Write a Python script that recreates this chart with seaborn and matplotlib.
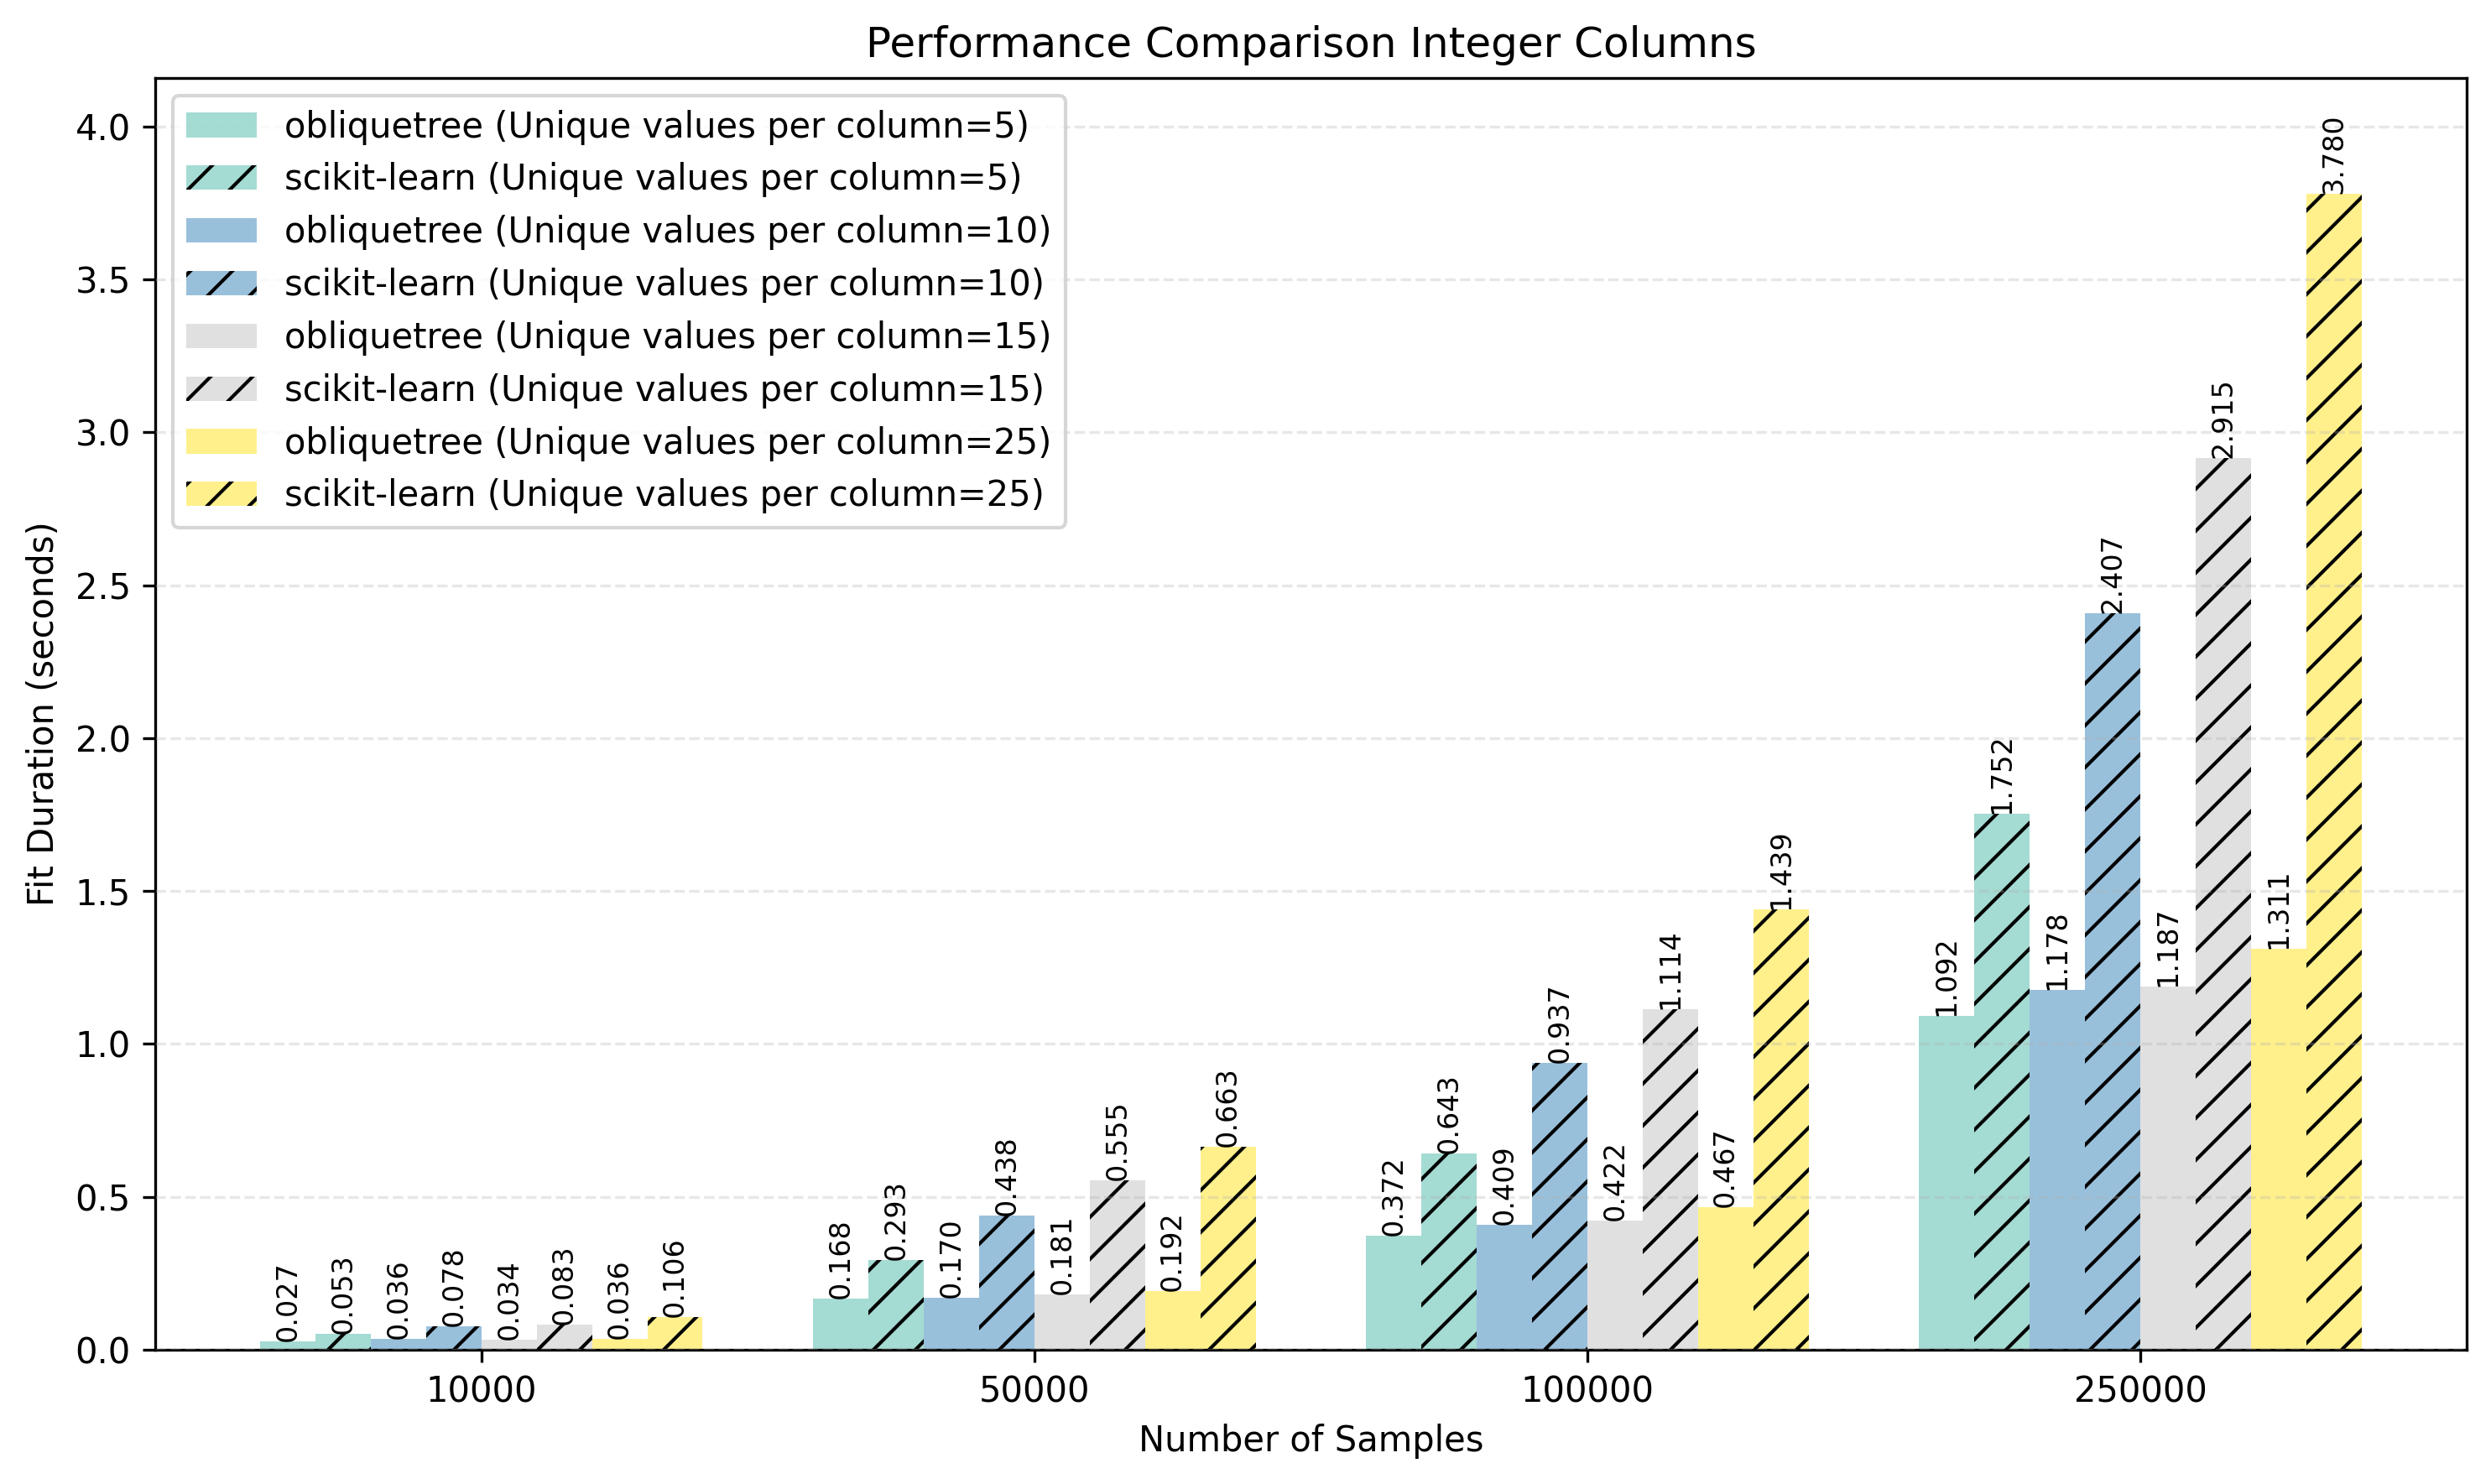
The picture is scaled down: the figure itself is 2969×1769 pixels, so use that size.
import numpy as np
import pandas as pd
import seaborn as sns
import matplotlib.pyplot as plt

# fit times (seconds)
sample_sizes = ['10000', '50000', '100000', '250000']
unique_values = [5, 10, 15, 25]

oblique_5 = [0.027, 0.168, 0.372, 1.092]
sklearn_5 = [0.053, 0.293, 0.643, 1.752]
oblique_10 = [0.036, 0.170, 0.409, 1.178]
sklearn_10 = [0.078, 0.438, 0.937, 2.407]
oblique_15 = [0.034, 0.181, 0.422, 1.187]
sklearn_15 = [0.083, 0.555, 1.114, 2.915]
oblique_25 = [0.036, 0.192, 0.467, 1.311]
sklearn_25 = [0.106, 0.663, 1.439, 3.780]

series = [
    ('obliquetree', 5, oblique_5), ('scikit-learn', 5, sklearn_5),
    ('obliquetree', 10, oblique_10), ('scikit-learn', 10, sklearn_10),
    ('obliquetree', 15, oblique_15), ('scikit-learn', 15, sklearn_15),
    ('obliquetree', 25, oblique_25), ('scikit-learn', 25, sklearn_25),
]

rows = []
for lib, u, vals in series:
    label = f'{lib} (Unique values per column={u})'
    for n, v in zip(sample_sizes, vals):
        rows.append({'Number of Samples': n, 'Fit Duration': v, 'Series': label})
data = pd.DataFrame(rows)
labels = list(dict.fromkeys(data['Series']))

set3 = sns.color_palette('Set3', 12)
base = [set3[0], set3[4], set3[8], set3[11]]
palette = [c for c in base for _ in range(2)]

plt.rcParams['hatch.linewidth'] = 1.0
plt.rcParams['hatch.color'] = 'black'

fig = plt.figure(figsize=(2969 / 300, 1769 / 300), dpi=300)
fig.subplots_adjust(left=0.0623, right=0.9902, bottom=0.0904, top=0.9474)
ax = fig.add_subplot(111)

sns.barplot(data=data, x='Number of Samples', y='Fit Duration', hue='Series',
            hue_order=labels, order=sample_sizes, palette=palette, saturation=1,
            errorbar=None, width=0.8, linewidth=0, edgecolor='black',
            legend=False, ax=ax)

for i, cont in enumerate(ax.containers):
    for bar in cont:
        bar.set_alpha(None)
        bar.set_facecolor((*palette[i], 0.8))
        bar.set_linewidth(0)
        bar.set_edgecolor('black')
        if i % 2 == 1:
            bar.set_hatch('//')
    cont.set_label(labels[i])
    ax.bar_label(cont, fmt='%.3f', rotation=90, fontsize=8)

max_val = max(max(v) for _, _, v in series)
ax.set_ylim(0, max_val * 1.1)
ax.set_xlim(-0.59, 3.59)

ax.set_xlabel('Number of Samples')
ax.set_ylabel('Fit Duration (seconds)')
ax.set_title('Performance Comparison Integer Columns')
ax.legend(ax.containers, labels, loc='upper left')
ax.grid(True, axis='y', linestyle='--', alpha=0.3)
ax.set_axisbelow(False)

plt.savefig('out.png', dpi=300)
